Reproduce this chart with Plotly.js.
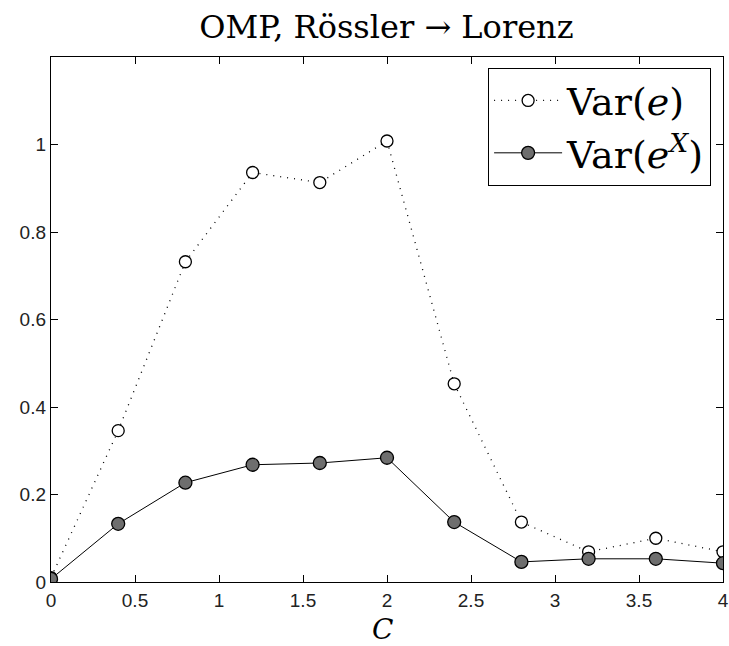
<!DOCTYPE html>
<html>
<head>
<meta charset="utf-8">
<script src="https://cdn.plot.ly/plotly-3.0.1.min.js"></script>
<style>html,body{margin:0;padding:0;background:#fff;}#plot{width:729px;height:646px;}</style>
</head>
<body>
<div id="plot"></div>
<script>
const C = [0, 0.4, 0.8, 1.2, 1.6, 2.0, 2.4, 2.8, 3.2, 3.6, 4.0];
const varE = [0.01, 0.346, 0.732, 0.936, 0.913, 1.008, 0.453, 0.137, 0.069, 0.100, 0.069];
const varEX = [0.007, 0.133, 0.227, 0.268, 0.272, 0.284, 0.137, 0.046, 0.053, 0.053, 0.043];
const xTicks = [0, 0.5, 1, 1.5, 2, 2.5, 3, 3.5, 4];
const xTickText = ['0', '0.5', '1', '1.5', '2', '2.5', '3', '3.5', '4'];
const yTicks = [0, 0.2, 0.4, 0.6, 0.8, 1];
const yTickText = ['0', '0.2', '0.4', '0.6', '0.8', '1'];

const serif = 'DejaVu Serif, Liberation Serif, serif';
const sans = 'Liberation Sans, Arial, sans-serif';

const traces = [
  {
    x: C, y: varE, name: 'Var(<i>e</i>)', type: 'scatter', mode: 'lines+markers',
    line: {color: '#000', width: 1.3, dash: '1px,6px'},
    marker: {symbol: 'circle', size: 12, color: '#fff', line: {color: '#000', width: 1.3}}
  },
  {
    x: C, y: varEX, name: 'Var(<i>e</i><sup><i>X</i></sup>)', type: 'scatter', mode: 'lines+markers',
    line: {color: '#000', width: 1},
    marker: {symbol: 'circle', size: 13, color: '#6e6e6e', line: {color: '#000', width: 1.3}}
  }
];

const axisCommon = {
  showline: true, linecolor: '#000', linewidth: 1.2, mirror: 'ticks',
  ticks: 'inside', ticklen: 7, tickcolor: '#000', tickwidth: 1,
  showgrid: false, zeroline: false, tickmode: 'array',
  tickfont: {family: sans, size: 19, color: '#222'}
};

const layout = {
  width: 729, height: 646,
  margin: {l: 51, r: 6, t: 57, b: 64},
  paper_bgcolor: '#fff', plot_bgcolor: '#fff',
  title: {text: 'OMP, Rössler → Lorenz', font: {family: serif, size: 32, color: '#000'}, x: 0.53, xanchor: 'center', y: 0.958, yanchor: 'middle'},
  xaxis: Object.assign({}, axisCommon, {
    range: [0, 4], tickvals: xTicks, ticktext: xTickText, ticklabelstandoff: 1
  }),
  yaxis: Object.assign({}, axisCommon, {
    range: [0, 1.2], tickvals: yTicks, ticktext: yTickText
  }),
  annotations: [{
    text: '<i>C</i>', xref: 'paper', yref: 'paper', x: 0.494, y: -0.091,
    xanchor: 'center', yanchor: 'middle', showarrow: false, borderpad: 0,
    font: {family: serif, size: 28, color: '#000'}
  }],
  showlegend: true,
  legend: {
    x: 0.982, y: 0.979, xanchor: 'right', yanchor: 'top',
    bgcolor: '#fff', bordercolor: '#000', borderwidth: 1.2,
    font: {family: serif, size: 38, color: '#000'},
    itemwidth: 68, tracegroupgap: 0
  }
};

Plotly.newPlot('plot', traces, layout, {displayModeBar: false, staticPlot: true});
</script>
</body>
</html>
